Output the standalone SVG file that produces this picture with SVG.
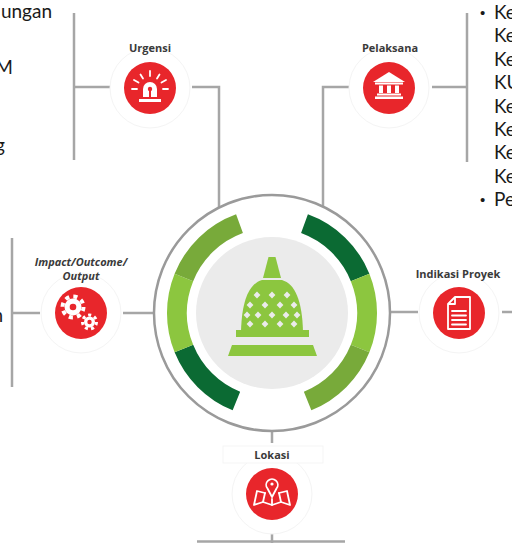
<svg xmlns="http://www.w3.org/2000/svg" width="512" height="543" viewBox="0 0 512 543">
  <style>
    .line { fill: none; stroke: #a6a6a6; stroke-width: 2.5; }
    .halo { fill: #ffffff; stroke: #f4f4f4; stroke-width: 1; }
    .badge { fill: #e8262b; }
    .lbl { font-family: "Open Sans", "Liberation Sans", sans-serif; font-weight: 700; font-size: 11px; fill: #3a3a3a; text-anchor: middle; }
    .body { font-family: Lato, "Liberation Sans", sans-serif; font-size: 19px; fill: #1a1a1a; }
    .bul { font-family: "Liberation Sans", sans-serif; font-size: 15px; fill: #1a1a1a; }
    .ico { fill: #ffffff; }
    .icoS { fill: none; stroke: #ffffff; stroke-width: 1.8; stroke-linecap: round; stroke-linejoin: round; }
    .seg { fill: none; stroke-width: 20; }
    .hole { fill: #ebebeb; }
  </style>
  <defs>
    <path id="dia" d="M0,-3.4 L3.4,0 L0,3.4 L-3.4,0 Z"/>
  </defs>

  <!-- side text columns -->
  <g id="text-left" class="body">
    <text x="52" y="18" text-anchor="end">ungan</text>
    <text x="13" y="74" text-anchor="end">M</text>
    <text x="5" y="152" text-anchor="end">g</text>
    <text x="3" y="322" text-anchor="end">n</text>
  </g>
  <g id="text-right">
    <text class="bul" x="480" y="18">•</text>
    <text class="body" x="494" y="19">Ke</text>
    <text class="body" x="494" y="42">Ke</text>
    <text class="body" x="494" y="66">Ke</text>
    <text class="body" x="494" y="89">KU</text>
    <text class="body" x="494" y="113">Ke</text>
    <text class="body" x="494" y="136">Ke</text>
    <text class="body" x="494" y="159">Ke</text>
    <text class="body" x="494" y="183">Ke</text>
    <text class="bul" x="480" y="205">•</text>
    <text class="body" x="494" y="206">Pe</text>
  </g>

  <!-- connectors -->
  <g id="connectors">
    <path class="line" d="M74,13 V160 M74,87 H110 M192,87 H219 V208"/>
    <path class="line" d="M349,87 H323 V207 M432,87 H467 M467,13 V162"/>
    <path class="line" d="M12,238 V387 M12,313 H40 M123,313 H155"/>
    <path class="line" d="M389,312 H418 M502,312 H512"/>
    <path class="line" d="M272,431 V443 M272,532 V543 M197,541.5 H345"/>
  </g>

  <!-- central hub -->
  <g id="hub">
    <circle cx="272" cy="313" r="118" fill="#ffffff" stroke="#9a9a9a" stroke-width="2.5"/>
    <path class="seg" stroke="#0b6a33" d="M304.5,223.7 A95,95 0 0 1 360.1,277.4"/>
    <path class="seg" stroke="#8cc63f" d="M360.1,277.4 A95,95 0 0 1 360.1,348.6"/>
    <path class="seg" stroke="#78aa3a" d="M360.1,348.6 A95,95 0 0 1 307.6,401.1"/>
    <path class="seg" stroke="#0b6a33" d="M236.4,401.1 A95,95 0 0 1 183.9,348.6"/>
    <path class="seg" stroke="#8cc63f" d="M183.9,348.6 A95,95 0 0 1 183.9,277.4"/>
    <path class="seg" stroke="#78aa3a" d="M183.9,277.4 A95,95 0 0 1 239.5,223.7"/>
    <circle cx="272" cy="313" r="76" fill="#ebebeb"/>
    <!-- stupa -->
    <g fill="#8cc63f">
      <path d="M268.5,257 L275.5,257 L281,278 L263,278 Z"/>
      <path d="M262,280 L282,280 C295,284 302,300 303,331 L241,331 C242,300 249,284 262,280 Z"/>
      <rect x="236" y="330" width="73" height="7"/>
      <path d="M232,345 L313,345 L317,356 L228,356 Z"/>
    </g>
    <g class="hole">
      <use href="#dia" x="257" y="295"/><use href="#dia" x="272" y="295"/><use href="#dia" x="287" y="295"/>
      <use href="#dia" x="250" y="305"/><use href="#dia" x="265" y="305"/><use href="#dia" x="280" y="305"/><use href="#dia" x="294" y="305"/>
      <use href="#dia" x="247" y="315"/><use href="#dia" x="258" y="315"/><use href="#dia" x="272" y="315"/><use href="#dia" x="286" y="315"/><use href="#dia" x="297" y="315"/>
      <use href="#dia" x="250" y="324"/><use href="#dia" x="265" y="324"/><use href="#dia" x="280" y="324"/><use href="#dia" x="294" y="324"/>
    </g>
  </g>

  <!-- Urgensi -->
  <g id="node-urgensi">
    <circle class="halo" cx="150" cy="88" r="40"/>
    <text class="lbl" x="150" y="52">Urgensi</text>
    <circle class="badge" cx="150" cy="88" r="26"/>
    <path class="ico" d="M143,97 L143,89 A7,7 0 0 1 157,89 L157,97 Z"/>
    <circle cx="150" cy="89" r="2.2" fill="#e8262b"/>
    <rect x="149" y="89" width="2" height="8" fill="#e8262b"/>
    <rect class="ico" x="139" y="99" width="22" height="3"/>
    <path class="icoS" d="M150,71 V76 M140.5,74.5 L143,78.5 M159.5,74.5 L157,78.5 M134,80 L138.5,82.5 M166,80 L161.5,82.5 M132,89 H137 M163,89 H168"/>
  </g>

  <!-- Pelaksana -->
  <g id="node-pelaksana">
    <circle class="halo" cx="389" cy="88" r="40"/>
    <text class="lbl" x="390" y="52">Pelaksana</text>
    <circle class="badge" cx="389" cy="88" r="26"/>
    <path class="ico" d="M373,82 L389,72 L405,82 Z"/>
    <rect class="ico" x="375" y="82.5" width="28" height="2"/>
    <rect class="ico" x="379" y="85.5" width="4" height="7.5"/>
    <rect class="ico" x="387" y="85.5" width="4" height="7.5"/>
    <rect class="ico" x="395" y="85.5" width="4" height="7.5"/>
    <rect class="ico" x="377" y="93.5" width="24" height="2"/>
    <rect class="ico" x="375" y="96.5" width="28" height="2.5"/>
  </g>

  <!-- Impact/Outcome/Output -->
  <g id="node-impact">
    <circle class="halo" cx="81" cy="313" r="40"/>
    <text class="lbl" x="81" y="266" font-style="italic" font-size="11.5">Impact/Outcome/</text>
    <text class="lbl" x="81" y="280" font-style="italic" font-size="11.5">Output</text>
    <circle class="badge" cx="81" cy="313" r="26"/>
    <circle class="ico" cx="73" cy="307" r="8.5"/>
    <circle cx="73" cy="307" r="10.5" fill="none" stroke="#ffffff" stroke-width="4" stroke-dasharray="4.1 4.15"/>
    <circle cx="73" cy="307" r="3.3" fill="#e8262b"/>
    <circle class="ico" cx="89.5" cy="322" r="5.5"/>
    <circle cx="89.5" cy="322" r="7" fill="none" stroke="#ffffff" stroke-width="3" stroke-dasharray="3.1 3.18"/>
    <circle cx="89.5" cy="322" r="2.2" fill="#e8262b"/>
  </g>

  <!-- Indikasi Proyek -->
  <g id="node-indikasi">
    <circle class="halo" cx="459" cy="313" r="40"/>
    <text class="lbl" x="458" y="278">Indikasi Proyek</text>
    <circle class="badge" cx="459" cy="313" r="26"/>
    <path class="icoS" d="M455,297 L470,297 L470,329 L448,329 L448,304 Z M448,304 L455,304 L455,297"/>
    <path class="icoS" d="M452,311 H466 M452,315.5 H466 M452,320 H466 M452,324.5 H466"/>
  </g>

  <!-- Lokasi -->
  <g id="node-lokasi">
    <circle class="halo" cx="272" cy="494" r="40"/>
    <rect x="223" y="446" width="100" height="17" fill="#ffffff" stroke="#f5f5f5" stroke-width="1"/>
    <text class="lbl" x="272" y="459">Lokasi</text>
    <circle class="badge" cx="272" cy="494" r="26"/>
    <path class="icoS" d="M265,493 L257,491 L254,505 L263,502 L272,505 L281,502 L290,505 L287,491 L279,493"/>
    <path class="icoS" d="M263,502 L265,493 M281,502 L279,493 M272,505 L272,499"/>
    <path class="icoS" d="M272,497 L267.5,488.5 A5.8,5.8 0 1 1 276.5,488.5 Z"/>
    <circle cx="272" cy="484" r="1.6" class="ico"/>
  </g>
</svg>
